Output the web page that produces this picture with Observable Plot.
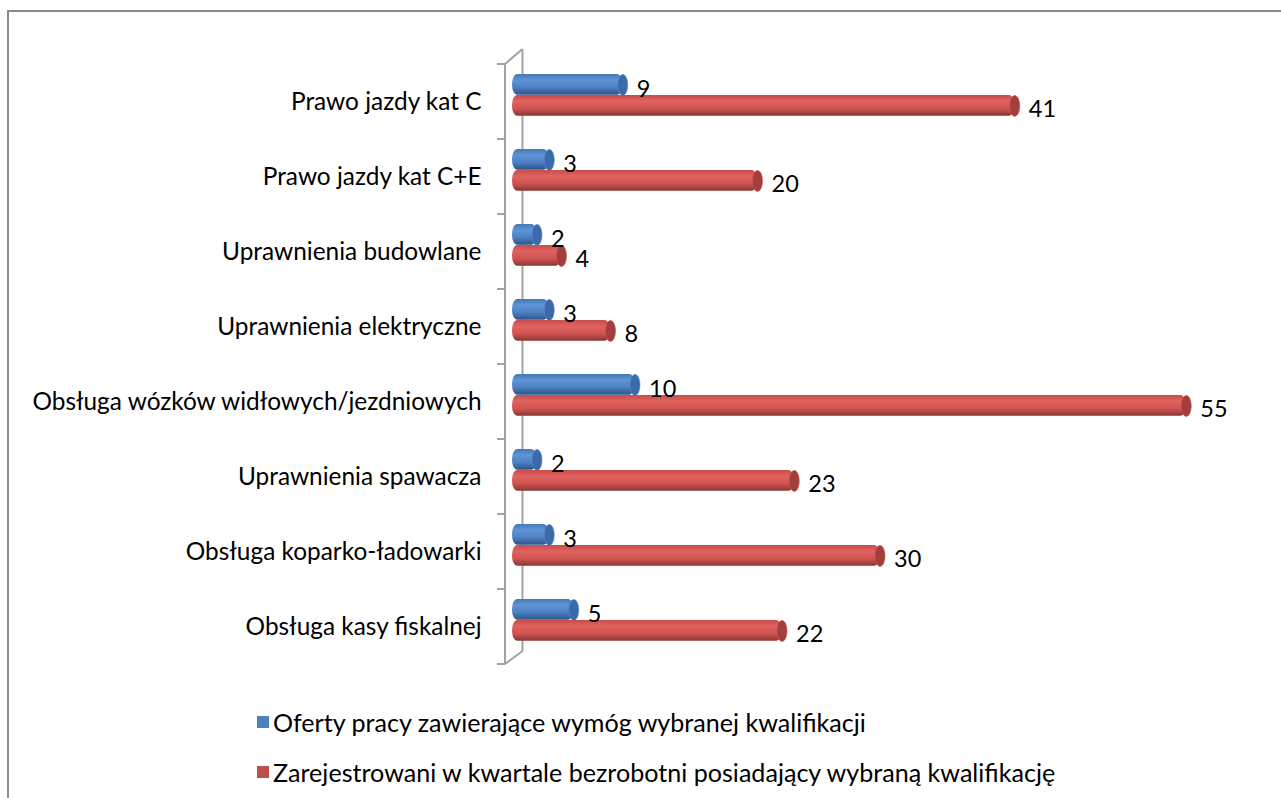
<!DOCTYPE html>
<html>
<head>
<meta charset="utf-8">
<script src="https://cdn.jsdelivr.net/npm/d3@7"></script>
<script src="https://cdn.jsdelivr.net/npm/@observablehq/plot@0.6"></script>
<style>
  html, body { margin: 0; padding: 0; background: #fff; }
  #wrap { position: relative; width: 1281px; height: 798px; overflow: hidden; font-family: "Lato", sans-serif; }
  #frame { position: absolute; left: 7px; top: 10px; width: 1400px; height: 900px; border-left: 2px solid #8a8a8a; border-top: 2px solid #8a8a8a; }
  #chart { position: absolute; left: 0; top: 0; }
  .leg { position: absolute; left: 257px; display: flex; align-items: center; font-size: 25.1px; color: #000; white-space: nowrap; line-height: 30px; }
  .leg .sw { width: 12px; height: 12px; margin-right: 4px; }
</style>
</head>
<body>
<div id="wrap">
  <div id="frame"></div>
  <div id="chart"></div>
  <div class="leg" id="leg1" style="top:707px"><span class="sw" style="background:#4f81bd"></span><span></span></div>
  <div class="leg" id="leg2" style="top:757px"><span class="sw" style="background:#c0504d"></span><span></span></div>
</div>
<script>
const categories = [
  "Prawo jazdy kat C",
  "Prawo jazdy kat C+E",
  "Uprawnienia budowlane",
  "Uprawnienia elektryczne",
  "Obsługa wózków widłowych/jezdniowych",
  "Uprawnienia spawacza",
  "Obsługa koparko-ładowarki",
  "Obsługa kasy fiskalnej"
];
const offers = [9, 3, 2, 3, 10, 2, 3, 5];
const registered = [41, 20, 4, 8, 55, 23, 30, 22];
const seriesNames = [
  "Oferty pracy zawierające wymóg wybranej kwalifikacji",
  "Zarejestrowani w kwartale bezrobotni posiadający wybraną kwalifikację"
];

document.querySelector("#leg1 span:last-child").textContent = seriesNames[0];
document.querySelector("#leg2 span:last-child").textContent = seriesNames[1];

const blueData = categories.map((c, i) => ({cat: c, v: offers[i]}));
const redData = categories.map((c, i) => ({cat: c, v: registered[i]}));

const W = 1281, H = 700;
const top0 = 62.7, bot0 = 664.7;
const x0 = 512, x55 = 1185.75;

// ellipse cap symbol
function ellipseSymbol(rx, ry) {
  return {
    draw(ctx) {
      const k = 0.5522847498;
      ctx.moveTo(rx, 0);
      ctx.bezierCurveTo(rx, ry * k, rx * k, ry, 0, ry);
      ctx.bezierCurveTo(-rx * k, ry, -rx, ry * k, -rx, 0);
      ctx.bezierCurveTo(-rx, -ry * k, -rx * k, -ry, 0, -ry);
      ctx.bezierCurveTo(rx * k, -ry, rx, -ry * k, rx, 0);
      ctx.closePath();
    }
  };
}

// defs with gradients + 3D axis wall, drawn using the scales
function axisWall(index, scales, values, dims) {
  const svgNS = "http://www.w3.org/2000/svg";
  const g = document.createElementNS(svgNS, "g");
  const defs = document.createElementNS(svgNS, "defs");
  defs.innerHTML = `
    <linearGradient id="gBlue" x1="0" y1="0" x2="0" y2="1">
      <stop offset="0" stop-color="#4677b5"/>
      <stop offset="0.3" stop-color="#5e95d8"/>
      <stop offset="0.65" stop-color="#4c80c2"/>
      <stop offset="1" stop-color="#2d5387"/>
    </linearGradient>
    <linearGradient id="gRed" x1="0" y1="0" x2="0" y2="1">
      <stop offset="0" stop-color="#c54d4a"/>
      <stop offset="0.3" stop-color="#e2625f"/>
      <stop offset="0.65" stop-color="#cf5552"/>
      <stop offset="1" stop-color="#8c3533"/>
    </linearGradient>`;
  g.appendChild(defs);
  const X = scales.x(0);
  const dom = scales.scales.y.domain;
  const bw = scales.scales.y.bandwidth;
  const ys = dom.map(d => scales.y(d));
  ys.push(ys[ys.length - 1] + bw);
  const t = ys[0], b = ys[ys.length - 1];
  const front = X - 7, back = X + 10.5, ext = 15;
  const parts = [];
  parts.push(`M${back},${t - ext}V${b - 13}`);
  parts.push(`M${front},${t}V${b}`);
  parts.push(`M${front},${t}L${back},${t - ext}`);
  parts.push(`M${front},${b}L${back},${b - 13}`);
  ys.forEach(y => parts.push(`M${front - 8},${y}H${front}`));
  const p = document.createElementNS(svgNS, "path");
  p.setAttribute("d", parts.join(""));
  p.setAttribute("stroke", "#a3a3a3");
  p.setAttribute("stroke-width", "2");
  p.setAttribute("fill", "none");
  g.appendChild(p);
  return g;
}

const bw = (bot0 - top0) / categories.length;
const blueTop = 10, blueBot = bw - 31;
const redTop = 31, redBot = bw - 52;
const blueDy = (blueTop + 10.5) - bw / 2;
const redDy = (redTop + 10.5) - bw / 2;

const plot = Plot.plot({
  width: W,
  height: H,
  marginLeft: x0,
  marginRight: W - x55,
  marginTop: top0,
  marginBottom: H - bot0,
  style: {fontFamily: "Lato", background: "transparent", overflow: "visible"},
  x: {domain: [0, 55], axis: null},
  y: {domain: categories, padding: 0, label: null},
  marks: [
    axisWall,
    Plot.axisY({tickSize: 0, tickPadding: 31, fontSize: 24.4, fill: "#000", label: null}),
    Plot.barX(blueData, {x: "v", y: "cat", fill: "url(#gBlue)", insetTop: blueTop, insetBottom: blueBot, rx: 5, ry: 10}),
    Plot.dot(blueData, {x: "v", y: "cat", dy: blueDy, symbol: ellipseSymbol(5, 10.5), fill: "#3a6aa8", stroke: "#5a8ccb", strokeWidth: 0.6}),
    Plot.barX(redData, {x: "v", y: "cat", fill: "url(#gRed)", insetTop: redTop, insetBottom: redBot, rx: 5, ry: 10}),
    Plot.dot(redData, {x: "v", y: "cat", dy: redDy, symbol: ellipseSymbol(5, 10.5), fill: "#a23f3c", stroke: "#c9524f", strokeWidth: 0.6}),
    Plot.text(blueData, {x: "v", y: "cat", text: d => String(d.v), dx: 14, dy: blueDy + 4.5, textAnchor: "start", fontSize: 23.5, fill: "#000"}),
    Plot.text(redData, {x: "v", y: "cat", text: d => String(d.v), dx: 14, dy: redDy + 4, textAnchor: "start", fontSize: 23.5, fill: "#000"})
  ]
});
document.getElementById("chart").appendChild(plot);
</script>
</body>
</html>
